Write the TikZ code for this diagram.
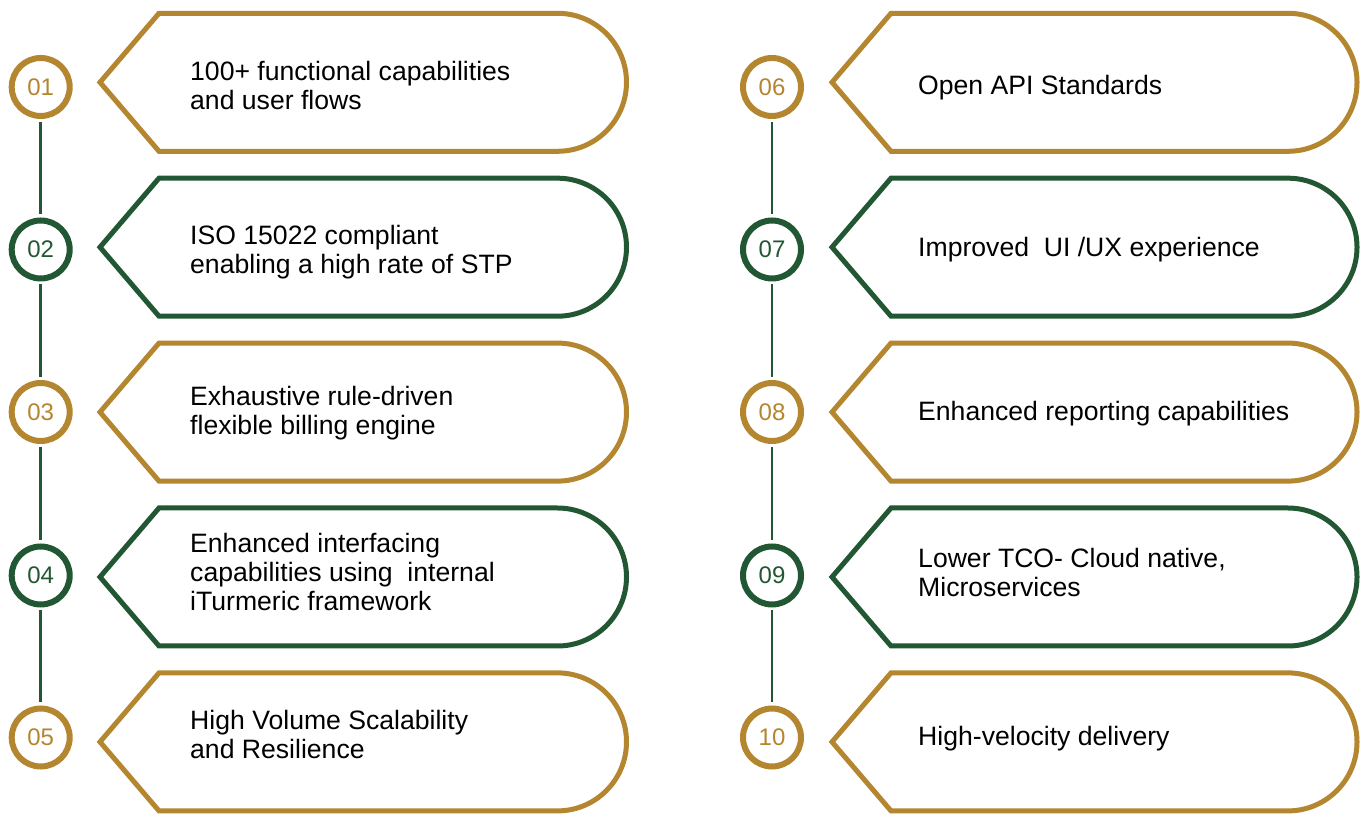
\documentclass[tikz,border=0pt]{standalone}
\usepackage{fontspec}
\setmainfont{Liberation Sans}
\definecolor{gold}{HTML}{B3862F}
\definecolor{dgreen}{HTML}{225733}
\begin{document}
\begin{tikzpicture}[x=1pt,y=1pt,
  num/.style={circle, draw, line width=6pt, fill=white, minimum size=58pt, inner sep=0pt, font=\fontsize{24}{28}\selectfont},
  link/.style={draw=dgreen, line width=2.6pt, shorten <=3pt, shorten >=3pt},
  badge/.style={line width=5pt, line join=miter, fill=white},
  itemtext/.style={anchor=north west, inner sep=0pt, align=left, text=black, font=\fontsize{26.6}{28.7}\selectfont}]
\useasboundingbox (0,0) rectangle (1367,816);

% left column badges
\foreach \c/\col in {82.3/gold, 247.2/dgreen, 412.1/gold, 577/dgreen, 741.9/gold}{
  \draw[badge, draw=\col] (100,{816-\c}) -- (159,{816-\c+69}) -- (557.5,{816-\c+69})
    arc[start angle=90, end angle=-90, radius=69] -- (159,{816-\c-69}) -- cycle;
}
% right column badges
\foreach \c/\col in {82.3/gold, 247.2/dgreen, 412.1/gold, 577/dgreen, 741.9/gold}{
  \draw[badge, draw=\col] (832,{816-\c}) -- (891,{816-\c+69}) -- (1288,{816-\c+69})
    arc[start angle=90, end angle=-90, radius=69] -- (891,{816-\c-69}) -- cycle;
}

% numbered circles
\node[num, draw=gold, text=gold]     (c1)  at (40.7,{816-87})    {01};
\node[num, draw=dgreen, text=dgreen] (c2)  at (40.7,{816-249.5}) {02};
\node[num, draw=gold, text=gold]     (c3)  at (40.7,{816-412})   {03};
\node[num, draw=dgreen, text=dgreen] (c4)  at (40.7,{816-575.5}) {04};
\node[num, draw=gold, text=gold]     (c5)  at (40.7,{816-737.5}) {05};
\node[num, draw=gold, text=gold]     (c6)  at (772,{816-87})     {06};
\node[num, draw=dgreen, text=dgreen] (c7)  at (772,{816-249.5})  {07};
\node[num, draw=gold, text=gold]     (c8)  at (772,{816-412})    {08};
\node[num, draw=dgreen, text=dgreen] (c9)  at (772,{816-575.5})  {09};
\node[num, draw=gold, text=gold]     (c10) at (772,{816-737.5})  {10};

% connectors
\draw[link] (c1) -- (c2);
\draw[link] (c2) -- (c3);
\draw[link] (c3) -- (c4);
\draw[link] (c4) -- (c5);
\draw[link] (c6) -- (c7);
\draw[link] (c7) -- (c8);
\draw[link] (c8) -- (c9);
\draw[link] (c9) -- (c10);

% texts (first baseline + strut height 20.09)
\node[itemtext] (t1)  at (190,{816-80.7+20.09})  {\strut 100+ functional capabilities\\and user flows};
\node[itemtext] (t2)  at (190,{816-244.7+20.09}) {\strut ISO 15022 compliant\\enabling a high rate of STP};
\node[itemtext] (t3)  at (190,{816-405.7+20.09}) {\strut Exhaustive rule-driven\\flexible billing engine};
\node[itemtext] (t4)  at (190,{816-552.7+20.09}) {\strut Enhanced interfacing\\capabilities using~ internal\\iTurmeric framework};
\node[itemtext] (t5)  at (190,{816-729.7+20.09}) {\strut High Volume Scalability\\and Resilience};
\node[itemtext] (t6)  at (918,{816-94.5+20.09})  {\strut Open API Standards};
\node[itemtext] (t7)  at (918,{816-256.5+20.09}) {\strut Improved~ UI /UX experience};
\node[itemtext] (t8)  at (918,{816-420+20.09})   {\strut Enhanced reporting capabilities};
\node[itemtext] (t9)  at (918,{816-567.3+20.09}) {\strut Lower TCO- Cloud native,\\Microservices};
\node[itemtext] (t10) at (918,{816-745+20.09})   {\strut High-velocity delivery};
\end{tikzpicture}
\end{document}
